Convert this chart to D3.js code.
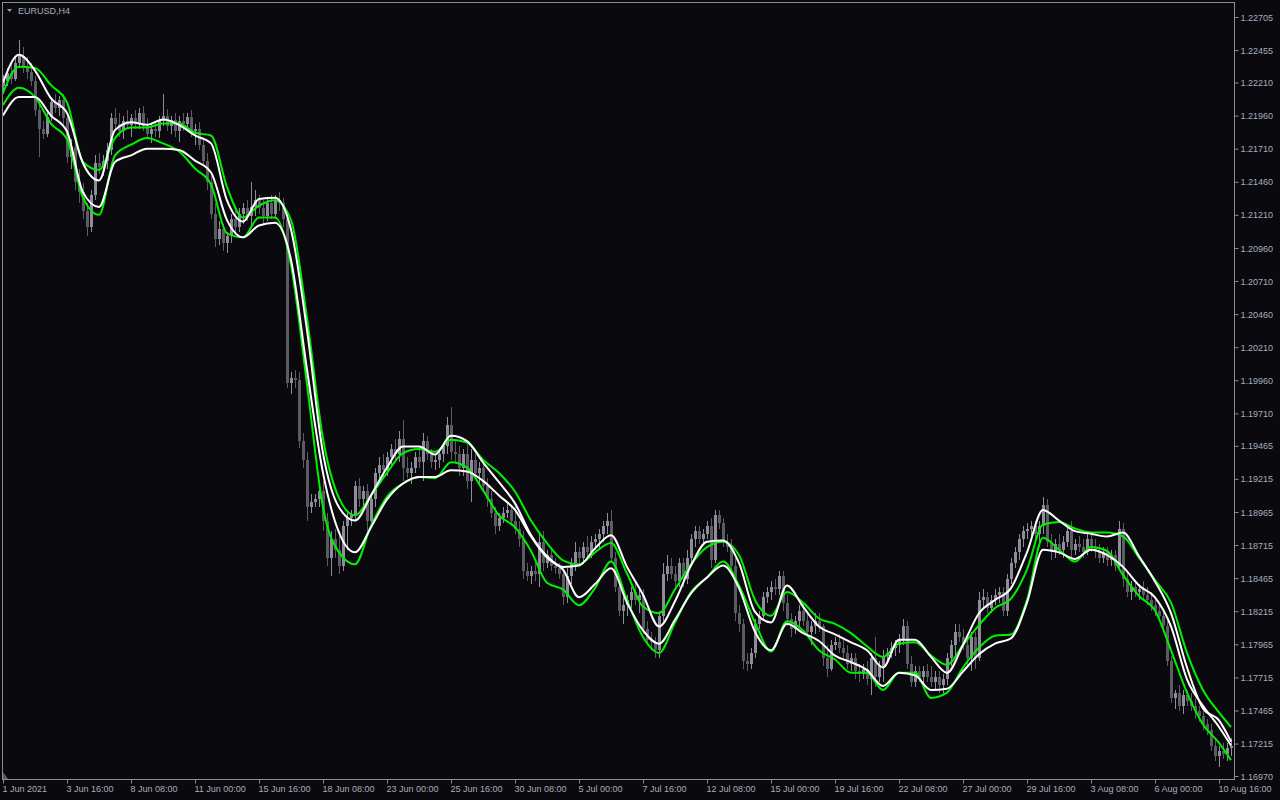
<!DOCTYPE html>
<html><head><meta charset="utf-8">
<script src="https://cdn.jsdelivr.net/npm/d3@7"></script>
<style>
html,body{margin:0;padding:0;background:#0a0a0e;overflow:hidden;}
svg{display:block;}
text{font-family:"Liberation Sans",Arial,sans-serif;font-size:9px;fill:#a9adba;}
</style></head><body>
<svg id="chart" width="1280" height="800"></svg>
<script>
// ---------- DATA ----------
const symbolLabel = "EURUSD,H4";

const xTickBars = [0,16,32,48,64,80,96,112,128,144,160,176,192,208,224,240,256,272,288,304];
const xTickLabels = ["1 Jun 2021","3 Jun 16:00","8 Jun 08:00","11 Jun 00:00","15 Jun 16:00","18 Jun 08:00",
  "23 Jun 00:00","25 Jun 16:00","30 Jun 08:00","5 Jul 00:00","7 Jul 16:00","12 Jul 08:00","15 Jul 00:00",
  "19 Jul 16:00","22 Jul 08:00","27 Jul 00:00","29 Jul 16:00","3 Aug 08:00","6 Aug 00:00","10 Aug 16:00"];

const yTickValues = [1.22705,1.22455,1.22210,1.21960,1.21710,1.21460,1.21210,1.20960,1.20710,1.20460,
  1.20210,1.19960,1.19710,1.19465,1.19215,1.18965,1.18715,1.18465,1.18215,1.17965,1.17715,1.17465,1.17215,1.16970];

const opens = [
1.2218,1.2222,1.2228,1.2224,1.2236,1.2241,1.2232,1.2229,1.2222,1.2200,
1.2186,1.2182,1.2195,1.2206,1.2202,1.2208,1.2194,1.2165,1.2172,1.2146,
1.2138,1.2124,1.2112,1.2136,1.2160,1.2157,1.2162,1.2170,1.2194,1.2190,
1.2184,1.2192,1.2189,1.2194,1.2190,1.2198,1.2188,1.2182,1.2186,1.2184,
1.2192,1.2196,1.2188,1.2193,1.2184,1.2192,1.2190,1.2195,1.2184,1.2186,
1.2174,1.2162,1.2146,1.2122,1.2103,1.2110,1.2100,1.2105,1.2118,1.2112,
1.2122,1.2126,1.2120,1.2127,1.2132,1.2126,1.2120,1.2130,1.2122,1.2132,
1.2130,1.2118,1.1994,1.1998,1.1996,1.1950,1.1936,1.1900,1.1904,1.1906,
1.1912,1.1890,1.1862,1.1876,1.1868,1.1856,1.1886,1.1892,1.1894,1.1916,
1.1906,1.1912,1.1890,1.1906,1.1926,1.1932,1.1928,1.1938,1.1944,1.1940,
1.1952,1.1930,1.1926,1.1930,1.1938,1.1934,1.1950,1.1940,1.1934,1.1936,
1.1940,1.1946,1.1962,1.1942,1.1940,1.1930,1.1940,1.1920,1.1936,1.1926,
1.1930,1.1916,1.1906,1.1896,1.1886,1.1892,1.1896,1.1898,1.1890,1.1884,
1.1876,1.1852,1.1848,1.1852,1.1850,1.1874,1.1858,1.1864,1.1856,1.1854,
1.1850,1.1832,1.1848,1.1858,1.1866,1.1862,1.1870,1.1866,1.1874,1.1876,
1.1880,1.1886,1.1890,1.1862,1.1840,1.1822,1.1826,1.1830,1.1836,1.1830,
1.1834,1.1808,1.1800,1.1798,1.1792,1.1818,1.1850,1.1856,1.1850,1.1844,
1.1858,1.1846,1.1862,1.1876,1.1882,1.1876,1.1880,1.1886,1.1860,1.1894,
1.1888,1.1874,1.1870,1.1856,1.1820,1.1812,1.1784,1.1782,1.1790,1.1812,
1.1818,1.1832,1.1836,1.1840,1.1838,1.1848,1.1828,1.1816,1.1808,1.1814,
1.1822,1.1814,1.1806,1.1810,1.1814,1.1810,1.1786,1.1778,1.1796,1.1798,
1.1794,1.1790,1.1782,1.1786,1.1776,1.1774,1.1778,1.1770,1.1786,1.1772,
1.1780,1.1788,1.1790,1.1794,1.1796,1.1800,1.1810,1.1782,1.1768,1.1776,
1.1772,1.1776,1.1772,1.1768,1.1772,1.1766,1.1770,1.1786,1.1796,1.1806,
1.1802,1.1796,1.1786,1.1802,1.1786,1.1830,1.1832,1.1824,1.1830,1.1834,
1.1836,1.1822,1.1846,1.1858,1.1866,1.1876,1.1882,1.1884,1.1886,1.1880,
1.1886,1.1902,1.1874,1.1866,1.1872,1.1868,1.1874,1.1882,1.1868,1.1872,
1.1870,1.1866,1.1876,1.1870,1.1866,1.1862,1.1866,1.1860,1.1864,1.1856,
1.1884,1.1846,1.1836,1.1840,1.1836,1.1838,1.1834,1.1830,1.1826,1.1822,
1.1818,1.1810,1.1784,1.1756,1.1760,1.1750,1.1758,1.1754,1.1750,1.1746,
1.1742,1.1736,1.1732,1.1720,1.1712,1.1716,1.1714,1.1718];

const highs = [
1.2227,1.2232,1.2236,1.2240,1.2253,1.2248,1.2240,1.2236,1.2226,1.2206,
1.2192,1.2198,1.2210,1.2212,1.2211,1.2212,1.2198,1.2178,1.2176,1.2156,
1.2145,1.2130,1.2140,1.2166,1.2168,1.2166,1.2175,1.2198,1.2202,1.2198,
1.2196,1.2200,1.2197,1.2200,1.2202,1.2203,1.2194,1.2190,1.2192,1.2196,
1.2212,1.2201,1.2196,1.2198,1.2196,1.2198,1.2198,1.2200,1.2190,1.2191,
1.2180,1.2168,1.2152,1.2130,1.2116,1.2114,1.2108,1.2122,1.2124,1.2126,
1.2130,1.2132,1.2146,1.2140,1.2136,1.2132,1.2134,1.2136,1.2136,1.2138,
1.2134,1.2120,1.2002,1.2004,1.2002,1.1956,1.1942,1.1910,1.1910,1.1916,
1.1920,1.1896,1.1882,1.1884,1.1878,1.1890,1.1896,1.1898,1.1920,1.1922,
1.1916,1.1918,1.1910,1.1930,1.1938,1.1940,1.1942,1.1948,1.1952,1.1958,
1.1966,1.1938,1.1934,1.1942,1.1946,1.1956,1.1954,1.1944,1.1940,1.1944,
1.1948,1.1968,1.1976,1.1950,1.1946,1.1944,1.1948,1.1944,1.1940,1.1934,
1.1934,1.1922,1.1912,1.1900,1.1896,1.1900,1.1904,1.1902,1.1900,1.1890,
1.1882,1.1858,1.1856,1.1858,1.1880,1.1882,1.1868,1.1868,1.1862,1.1858,
1.1854,1.1854,1.1862,1.1874,1.1870,1.1874,1.1878,1.1878,1.1880,1.1884,
1.1890,1.1896,1.1898,1.1866,1.1846,1.1832,1.1834,1.1840,1.1844,1.1838,
1.1838,1.1814,1.1806,1.1802,1.1822,1.1858,1.1864,1.1862,1.1856,1.1862,
1.1862,1.1868,1.1880,1.1886,1.1886,1.1884,1.1890,1.1892,1.1898,1.1898,
1.1892,1.1880,1.1876,1.1862,1.1826,1.1816,1.1790,1.1794,1.1816,1.1822,
1.1836,1.1840,1.1844,1.1846,1.1852,1.1852,1.1834,1.1820,1.1818,1.1826,
1.1828,1.1822,1.1814,1.1820,1.1820,1.1812,1.1796,1.1800,1.1802,1.1804,
1.1802,1.1796,1.1790,1.1790,1.1782,1.1782,1.1784,1.1790,1.1802,1.1784,
1.1792,1.1794,1.1798,1.1800,1.1804,1.1816,1.1814,1.1788,1.1780,1.1780,
1.1780,1.1782,1.1780,1.1776,1.1776,1.1774,1.1790,1.1800,1.1812,1.1812,
1.1808,1.1804,1.1806,1.1806,1.1836,1.1838,1.1836,1.1834,1.1838,1.1840,
1.1840,1.1850,1.1862,1.1870,1.1880,1.1886,1.1888,1.1890,1.1890,1.1890,
1.1908,1.1906,1.1880,1.1876,1.1880,1.1878,1.1886,1.1890,1.1876,1.1878,
1.1876,1.1880,1.1880,1.1876,1.1872,1.1870,1.1870,1.1868,1.1868,1.1890,
1.1888,1.1852,1.1844,1.1844,1.1842,1.1844,1.1840,1.1836,1.1832,1.1828,
1.1822,1.1814,1.1788,1.1762,1.1766,1.1762,1.1762,1.1760,1.1756,1.1750,
1.1746,1.1740,1.1736,1.1726,1.1720,1.1722,1.1722,1.1726];

const lows = [
1.2212,1.2218,1.2220,1.2222,1.2232,1.2228,1.2224,1.2218,1.2196,1.2165,
1.2178,1.2180,1.2192,1.2198,1.2196,1.2190,1.2160,1.2156,1.2140,1.2130,
1.2118,1.2105,1.2108,1.2132,1.2152,1.2150,1.2156,1.2166,1.2184,1.2180,
1.2178,1.2186,1.2180,1.2186,1.2186,1.2184,1.2178,1.2175,1.2180,1.2179,
1.2188,1.2184,1.2182,1.2180,1.2176,1.2184,1.2185,1.2180,1.2174,1.2170,
1.2158,1.2140,1.2118,1.2097,1.2098,1.2094,1.2092,1.2100,1.2106,1.2108,
1.2114,1.2116,1.2112,1.2120,1.2122,1.2114,1.2116,1.2118,1.2118,1.2124,
1.2112,1.1990,1.1986,1.1990,1.1945,1.1930,1.1890,1.1896,1.1900,1.1900,
1.1882,1.1856,1.1848,1.1862,1.1850,1.1852,1.1868,1.1886,1.1890,1.1900,
1.1900,1.1882,1.1886,1.1900,1.1918,1.1922,1.1924,1.1930,1.1936,1.1934,
1.1920,1.1922,1.1918,1.1926,1.1930,1.1920,1.1936,1.1930,1.1928,1.1930,
1.1934,1.1940,1.1936,1.1934,1.1924,1.1924,1.1914,1.1904,1.1922,1.1918,
1.1912,1.1900,1.1892,1.1880,1.1882,1.1888,1.1892,1.1886,1.1880,1.1870,
1.1846,1.1844,1.1842,1.1844,1.1840,1.1852,1.1854,1.1852,1.1850,1.1846,
1.1826,1.1828,1.1842,1.1852,1.1858,1.1858,1.1862,1.1862,1.1868,1.1868,
1.1874,1.1880,1.1858,1.1836,1.1818,1.1812,1.1818,1.1824,1.1826,1.1820,
1.1804,1.1796,1.1792,1.1786,1.1786,1.1814,1.1844,1.1846,1.1838,1.1840,
1.1840,1.1842,1.1856,1.1870,1.1872,1.1872,1.1876,1.1854,1.1858,1.1884,
1.1870,1.1866,1.1850,1.1814,1.1806,1.1778,1.1776,1.1778,1.1786,1.1808,
1.1814,1.1828,1.1830,1.1834,1.1834,1.1822,1.1810,1.1802,1.1804,1.1810,
1.1810,1.1802,1.1796,1.1804,1.1806,1.1780,1.1772,1.1776,1.1792,1.1790,
1.1786,1.1778,1.1776,1.1770,1.1768,1.1770,1.1766,1.1758,1.1764,1.1768,
1.1768,1.1782,1.1786,1.1788,1.1790,1.1796,1.1778,1.1764,1.1764,1.1768,
1.1766,1.1768,1.1764,1.1762,1.1760,1.1758,1.1766,1.1780,1.1788,1.1798,
1.1792,1.1780,1.1776,1.1778,1.1784,1.1824,1.1820,1.1820,1.1826,1.1828,
1.1818,1.1818,1.1842,1.1854,1.1860,1.1870,1.1876,1.1878,1.1874,1.1870,
1.1880,1.1870,1.1860,1.1862,1.1864,1.1862,1.1870,1.1862,1.1864,1.1866,
1.1862,1.1864,1.1866,1.1862,1.1858,1.1858,1.1856,1.1856,1.1852,1.1852,
1.1840,1.1832,1.1830,1.1832,1.1830,1.1830,1.1826,1.1822,1.1818,1.1814,
1.1806,1.1780,1.1752,1.1748,1.1746,1.1744,1.1750,1.1746,1.1740,1.1738,
1.1732,1.1728,1.1716,1.1708,1.1704,1.1710,1.1708,1.1712];

const closes = [
1.2222,1.2228,1.2224,1.2236,1.2241,1.2232,1.2229,1.2222,1.2200,1.2186,
1.2182,1.2195,1.2206,1.2202,1.2208,1.2194,1.2165,1.2172,1.2146,1.2138,
1.2124,1.2112,1.2136,1.2160,1.2157,1.2162,1.2170,1.2194,1.2190,1.2184,
1.2192,1.2189,1.2194,1.2190,1.2198,1.2188,1.2182,1.2186,1.2184,1.2192,
1.2196,1.2188,1.2193,1.2184,1.2192,1.2190,1.2195,1.2184,1.2186,1.2174,
1.2162,1.2146,1.2122,1.2103,1.2110,1.2100,1.2105,1.2118,1.2112,1.2122,
1.2126,1.2120,1.2127,1.2132,1.2126,1.2120,1.2130,1.2122,1.2132,1.2130,
1.2118,1.1994,1.1998,1.1996,1.1950,1.1936,1.1900,1.1904,1.1906,1.1912,
1.1890,1.1862,1.1876,1.1868,1.1856,1.1886,1.1892,1.1894,1.1916,1.1906,
1.1912,1.1890,1.1906,1.1926,1.1932,1.1928,1.1938,1.1944,1.1940,1.1952,
1.1930,1.1926,1.1930,1.1938,1.1934,1.1950,1.1940,1.1934,1.1936,1.1940,
1.1946,1.1962,1.1942,1.1940,1.1930,1.1940,1.1920,1.1936,1.1926,1.1930,
1.1916,1.1906,1.1896,1.1886,1.1892,1.1896,1.1898,1.1890,1.1884,1.1876,
1.1852,1.1848,1.1852,1.1850,1.1874,1.1858,1.1864,1.1856,1.1854,1.1850,
1.1832,1.1848,1.1858,1.1866,1.1862,1.1870,1.1866,1.1874,1.1876,1.1880,
1.1886,1.1890,1.1862,1.1840,1.1822,1.1826,1.1830,1.1836,1.1830,1.1834,
1.1808,1.1800,1.1798,1.1792,1.1818,1.1850,1.1856,1.1850,1.1844,1.1858,
1.1846,1.1862,1.1876,1.1882,1.1876,1.1880,1.1886,1.1860,1.1894,1.1888,
1.1874,1.1870,1.1856,1.1820,1.1812,1.1784,1.1782,1.1790,1.1812,1.1818,
1.1832,1.1836,1.1840,1.1838,1.1848,1.1828,1.1816,1.1808,1.1814,1.1822,
1.1814,1.1806,1.1810,1.1814,1.1810,1.1786,1.1778,1.1796,1.1798,1.1794,
1.1790,1.1782,1.1786,1.1776,1.1774,1.1778,1.1770,1.1786,1.1772,1.1780,
1.1788,1.1790,1.1794,1.1796,1.1800,1.1810,1.1782,1.1768,1.1776,1.1772,
1.1776,1.1772,1.1768,1.1772,1.1766,1.1770,1.1786,1.1796,1.1806,1.1802,
1.1796,1.1786,1.1802,1.1786,1.1830,1.1832,1.1824,1.1830,1.1834,1.1836,
1.1822,1.1846,1.1858,1.1866,1.1876,1.1882,1.1884,1.1886,1.1880,1.1886,
1.1902,1.1874,1.1866,1.1872,1.1868,1.1874,1.1882,1.1868,1.1872,1.1870,
1.1866,1.1876,1.1870,1.1866,1.1862,1.1866,1.1860,1.1864,1.1856,1.1884,
1.1846,1.1836,1.1840,1.1836,1.1838,1.1834,1.1830,1.1826,1.1822,1.1818,
1.1810,1.1784,1.1756,1.1760,1.1750,1.1758,1.1754,1.1750,1.1746,1.1742,
1.1736,1.1732,1.1720,1.1712,1.1716,1.1714,1.1718,1.1720];

// band lines, read every 4 bars (plus the last bar)
const lineBars = [0,4,8,12,16,20,24,28,32,36,40,44,48,52,56,60,64,68,72,76,80,84,88,92,96,100,
  104,108,112,116,120,124,128,132,136,140,144,148,152,156,160,164,168,172,176,180,184,188,192,196,
  200,204,208,212,216,220,224,228,232,236,240,244,248,252,256,260,264,268,272,276,280,284,288,292,
  296,300,304,307];

const whiteUpper = [1.2221,1.2242,1.2230,1.2209,1.2198,1.2160,1.2147,1.2185,1.2191,1.2189,
  1.2193,1.2189,1.2181,1.2175,1.2132,1.2116,1.2133,1.2134,1.2110,1.2034,
  1.1941,1.1900,1.1890,1.1909,1.1930,1.1946,1.1946,1.1940,1.1954,1.1950,
  1.1934,1.1919,1.1903,1.1879,1.1863,1.1855,1.1856,1.1869,1.1879,1.1855,
  1.1834,1.1810,1.1829,1.1856,1.1874,1.1875,1.1858,1.1821,1.1813,1.1841,
  1.1825,1.1810,1.1804,1.1798,1.1792,1.1779,1.1800,1.1800,1.1787,1.1775,
  1.1796,1.1820,1.1830,1.1839,1.1866,1.1898,1.1890,1.1882,1.1880,1.1878,
  1.1881,1.1863,1.1844,1.1820,1.1779,1.1748,1.1739,1.1723];

const greenUpper = [1.2213,1.2233,1.2232,1.2219,1.2206,1.2161,1.2155,1.2179,1.2187,1.2187,
  1.2190,1.2190,1.2183,1.2181,1.2142,1.2119,1.2128,1.2132,1.2117,1.2043,
  1.1952,1.1907,1.1894,1.1909,1.1926,1.1941,1.1944,1.1942,1.1951,1.1949,
  1.1936,1.1926,1.1912,1.1890,1.1873,1.1860,1.1857,1.1866,1.1873,1.1850,
  1.1825,1.1820,1.1838,1.1857,1.1870,1.1874,1.1864,1.1830,1.1818,1.1836,
  1.1828,1.1816,1.1812,1.1805,1.1795,1.1787,1.1797,1.1798,1.1788,1.1781,
  1.1796,1.1811,1.1824,1.1831,1.1853,1.1887,1.1889,1.1884,1.1881,1.1881,
  1.1878,1.1862,1.1845,1.1828,1.1790,1.1762,1.1745,1.1734];

const greenLower = [1.2204,1.2217,1.2210,1.2190,1.2178,1.2134,1.2121,1.2166,1.2174,1.2179,
  1.2175,1.2169,1.2156,1.2144,1.2107,1.2104,1.2119,1.2119,1.2083,1.1993,
  1.1900,1.1866,1.1857,1.1886,1.1908,1.1918,1.1923,1.1922,1.1934,1.1930,
  1.1913,1.1894,1.1885,1.1867,1.1843,1.1838,1.1826,1.1839,1.1859,1.1830,
  1.1802,1.1790,1.1813,1.1836,1.1847,1.1859,1.1841,1.1813,1.1791,1.1814,
  1.1807,1.1792,1.1785,1.1775,1.1775,1.1762,1.1775,1.1775,1.1756,1.1760,
  1.1779,1.1794,1.1803,1.1804,1.1830,1.1877,1.1868,1.1859,1.1870,1.1867,
  1.1849,1.1833,1.1822,1.1792,1.1760,1.1736,1.1722,1.1709];

const whiteLower = [1.2196,1.2210,1.2210,1.2196,1.2184,1.2138,1.2127,1.2161,1.2166,1.2171,
  1.2171,1.2170,1.2162,1.2153,1.2117,1.2104,1.2113,1.2115,1.2087,1.2004,
  1.1926,1.1881,1.1866,1.1885,1.1906,1.1918,1.1923,1.1923,1.1928,1.1927,
  1.1920,1.1909,1.1898,1.1878,1.1862,1.1853,1.1832,1.1842,1.1854,1.1828,
  1.1807,1.1797,1.1815,1.1835,1.1847,1.1856,1.1839,1.1806,1.1792,1.1812,
  1.1805,1.1799,1.1788,1.1783,1.1777,1.1765,1.1775,1.1773,1.1762,1.1763,
  1.1776,1.1789,1.1797,1.1801,1.1828,1.1868,1.1866,1.1861,1.1868,1.1864,
  1.1855,1.1841,1.1832,1.1810,1.1770,1.1750,1.1734,1.1720];

// ---------- DRAWING ----------
const svg = d3.select("#chart");
const frameColor = "#8c8c8c";
const bullColor = "#8e8e9a", bearColor = "#5c5c64";

svg.append("rect").attr("width",1280).attr("height",800).attr("fill","#0a0a0e");

const x = d3.scaleLinear().domain([0, opens.length - 1]).range([3, 1231]);
const y = d3.scaleLinear().domain([1.16970, 1.22705]).range([776, 17]);

svg.append("defs").append("clipPath").attr("id","plotClip")
  .append("rect").attr("x",3).attr("y",3).attr("width",1231).attr("height",776);

const plot = svg.append("g").attr("clip-path","url(#plotClip)");

const candles = d3.range(opens.length).map(i => ({i, o:opens[i], h:highs[i], l:lows[i], c:closes[i]}));

const cg = plot.append("g").attr("shape-rendering","crispEdges");
cg.selectAll("line.wick").data(candles).join("line")
  .attr("class","wick")
  .attr("x1", d => Math.round(x(d.i)) + 0.5).attr("x2", d => Math.round(x(d.i)) + 0.5)
  .attr("y1", d => y(d.h)).attr("y2", d => y(d.l))
  .attr("stroke", d => d.c >= d.o ? bullColor : bearColor).attr("stroke-width",1);
cg.selectAll("rect.body").data(candles).join("rect")
  .attr("class","body")
  .attr("x", d => Math.round(x(d.i)) - 1).attr("width", 3)
  .attr("y", d => y(Math.max(d.o, d.c)))
  .attr("height", d => Math.max(1, y(Math.min(d.o, d.c)) - y(Math.max(d.o, d.c))))
  .attr("fill", d => d.c >= d.o ? bullColor : bearColor);

const lineGen = d3.line().x(d => x(d[0])).y(d => y(d[1])).curve(d3.curveMonotoneX);
const bands = [
  {vals: greenUpper, color: "#00f000"},
  {vals: greenLower, color: "#00f000"},
  {vals: whiteUpper, color: "#ffffff"},
  {vals: whiteLower, color: "#ffffff"}
];
plot.selectAll("path.band").data(bands).join("path")
  .attr("class","band")
  .attr("d", b => lineGen(lineBars.map((bar, k) => [bar, b.vals[k]])))
  .attr("fill","none").attr("stroke", b => b.color).attr("stroke-width", 2)
  .attr("stroke-linejoin","round");

// frame
svg.append("rect").attr("x",2.5).attr("y",2.5).attr("width",1232).attr("height",777)
  .attr("fill","none").attr("stroke",frameColor).attr("stroke-width",1);

// right price axis
const yAxis = d3.axisRight(y).tickValues(yTickValues).tickSize(4).tickSizeOuter(0)
  .tickFormat(d3.format(".5f"));
const yg = svg.append("g").attr("transform","translate(1234.5,0)").call(yAxis);
yg.select(".domain").remove();
yg.selectAll(".tick line").attr("stroke", frameColor);
yg.selectAll(".tick text").attr("x", 6).attr("dy","0.34em")
  .style("font-family",'"Liberation Sans",Arial,sans-serif').style("font-size","9px").attr("fill","#a9adba");

// bottom time axis
const xAxis = d3.axisBottom(x).tickValues(xTickBars).tickSize(4).tickSizeOuter(0)
  .tickFormat((d, i) => xTickLabels[i]);
const xg = svg.append("g").attr("transform","translate(0,779.5)").call(xAxis);
xg.select(".domain").remove();
xg.selectAll(".tick line").attr("stroke", frameColor);
xg.selectAll(".tick text").attr("text-anchor","start").attr("x", -1).attr("y", 12.5).attr("dy", null)
  .style("font-family",'"Liberation Sans",Arial,sans-serif').style("font-size","9px").attr("fill","#a9adba");

// symbol label
svg.append("path").attr("d","M7,9 L12,9 L9.5,12 Z").attr("fill","#9a9eb0");
svg.append("text").attr("x",18).attr("y",14).text(symbolLabel).attr("fill","#b0b4c6");
// small marker at bottom-left
svg.append("path").attr("d","M3,772 L3,779 L8,779 Z").attr("fill","#5a5a62");
</script>
</body></html>
